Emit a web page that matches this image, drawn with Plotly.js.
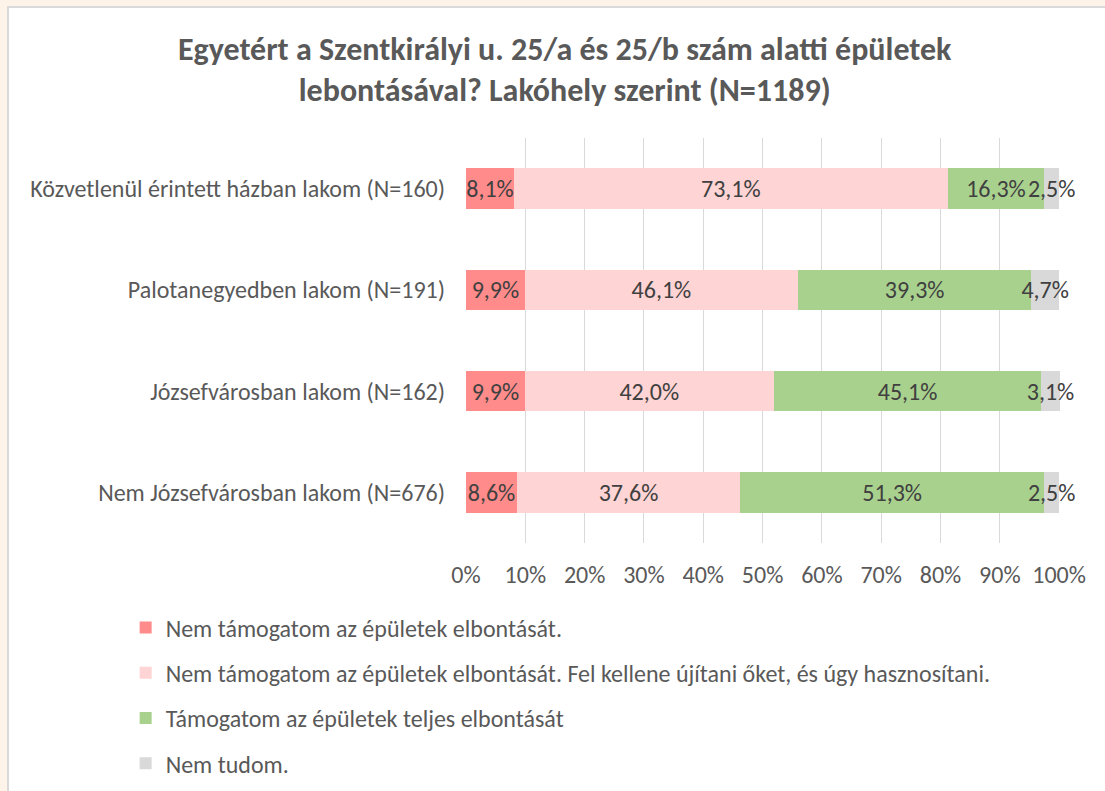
<!DOCTYPE html>
<html>
<head>
<meta charset="utf-8">
<script src="https://cdn.plot.ly/plotly-3.0.1.min.js"></script>
<style>
  html, body { margin: 0; padding: 0; background: #FDF3E8; width: 1105px; height: 791px; overflow: hidden; }
  #frame { position: absolute; left: 7px; top: 6px; width: 1098px; height: 785px; border-left: 2px solid #D9D9D9; border-top: 2px solid #D9D9D9; background: #fff; }
  #chart { width: 1096px; height: 783px; }
</style>
</head>
<body>
<div id="frame"><div id="chart"></div></div>
<script>
const categories = [
  "Közvetlenül érintett házban lakom (N=160)",
  "Palotanegyedben lakom (N=191)",
  "Józsefvárosban lakom (N=162)",
  "Nem Józsefvárosban lakom (N=676)"
];
const seriesNames = [
  "Nem támogatom az épületek elbontását.",
  "Nem támogatom az épületek elbontását. Fel kellene újítani őket, és úgy hasznosítani.",
  "Támogatom az épületek teljes elbontását",
  "Nem tudom."
];
const nemTamogatom = [8.1, 9.9, 9.9, 8.6];
const felujitani   = [73.1, 46.1, 42.0, 37.6];
const tamogatom    = [16.3, 39.3, 45.1, 51.3];
const nemTudom     = [2.5, 4.7, 3.1, 2.5];
const xTicks = [0, 10, 20, 30, 40, 50, 60, 70, 80, 90, 100];

const colors = ["#FF8B8B", "#FFD4D4", "#A9D18E", "#D9D9D9"];
const allValues = [nemTamogatom, felujitani, tamogatom, nemTudom];
const FONT = "Carlito, Lato, 'Open Sans', sans-serif";

const traces = allValues.map((vals, i) => ({
  type: "bar",
  orientation: "h",
  name: seriesNames[i],
  legendgroup: "g" + i,
  y: categories,
  x: vals,
  width: 0.4,
  marker: { color: colors[i], line: { width: 0 } },
  texttemplate: "%{x:.1f}%",
  textposition: "inside",
  insidetextanchor: "middle",
  textangle: 0,
  constraintext: "none",
  cliponaxis: false,
  insidetextfont: { family: FONT, size: 24, color: "#404040" },
  hoverinfo: "skip"
}));

const layout = {
  width: 1096,
  height: 783,
  paper_bgcolor: "#ffffff",
  plot_bgcolor: "#ffffff",
  separators: ", ",
  barmode: "stack",
  font: { family: FONT, color: "#595959", size: 24 },
  margin: { l: 457, r: 45, t: 130, b: 248, pad: 0, autoexpand: false },
  title: {
    text: "<b>Egyetért a Szentkirályi u. 25/a és 25/b szám alatti épületek<br>lebontásával? Lakóhely szerint (N=1189)</b>",
    font: { family: FONT, size: 32, color: "#595959" },
    xref: "container", x: 0.507, xanchor: "center",
    yref: "container", y: 0.934, yanchor: "top"
  },
  xaxis: {
    range: [0, 100.15],
    tickvals: xTicks,
    ticktext: xTicks.map(v => v + "%"),
    showgrid: true, gridcolor: "#D9D9D9", gridwidth: 1,
    zeroline: false, showline: false,
    ticks: "", ticklabelstandoff: 15,
    tickfont: { family: FONT, size: 24, color: "#595959" },
    fixedrange: true
  },
  yaxis: {
    autorange: "reversed",
    showgrid: false, zeroline: false, showline: false,
    ticks: "", ticklabelstandoff: 20,
    tickfont: { family: FONT, size: 24, color: "#595959" },
    fixedrange: true
  },
  showlegend: true,
  legend: {
    orientation: "v",
    x: -0.573, xanchor: "left",
    yref: "container",
    y: 0.237, yanchor: "top",
    traceorder: "grouped",
    tracegroupgap: 11,
    font: { family: FONT, size: 24, color: "#595959" },
    bgcolor: "rgba(0,0,0,0)"
  },
  bargap: 0.6
};

Plotly.newPlot("chart", traces, layout, { displayModeBar: false, staticPlot: true });
</script>
</body>
</html>
